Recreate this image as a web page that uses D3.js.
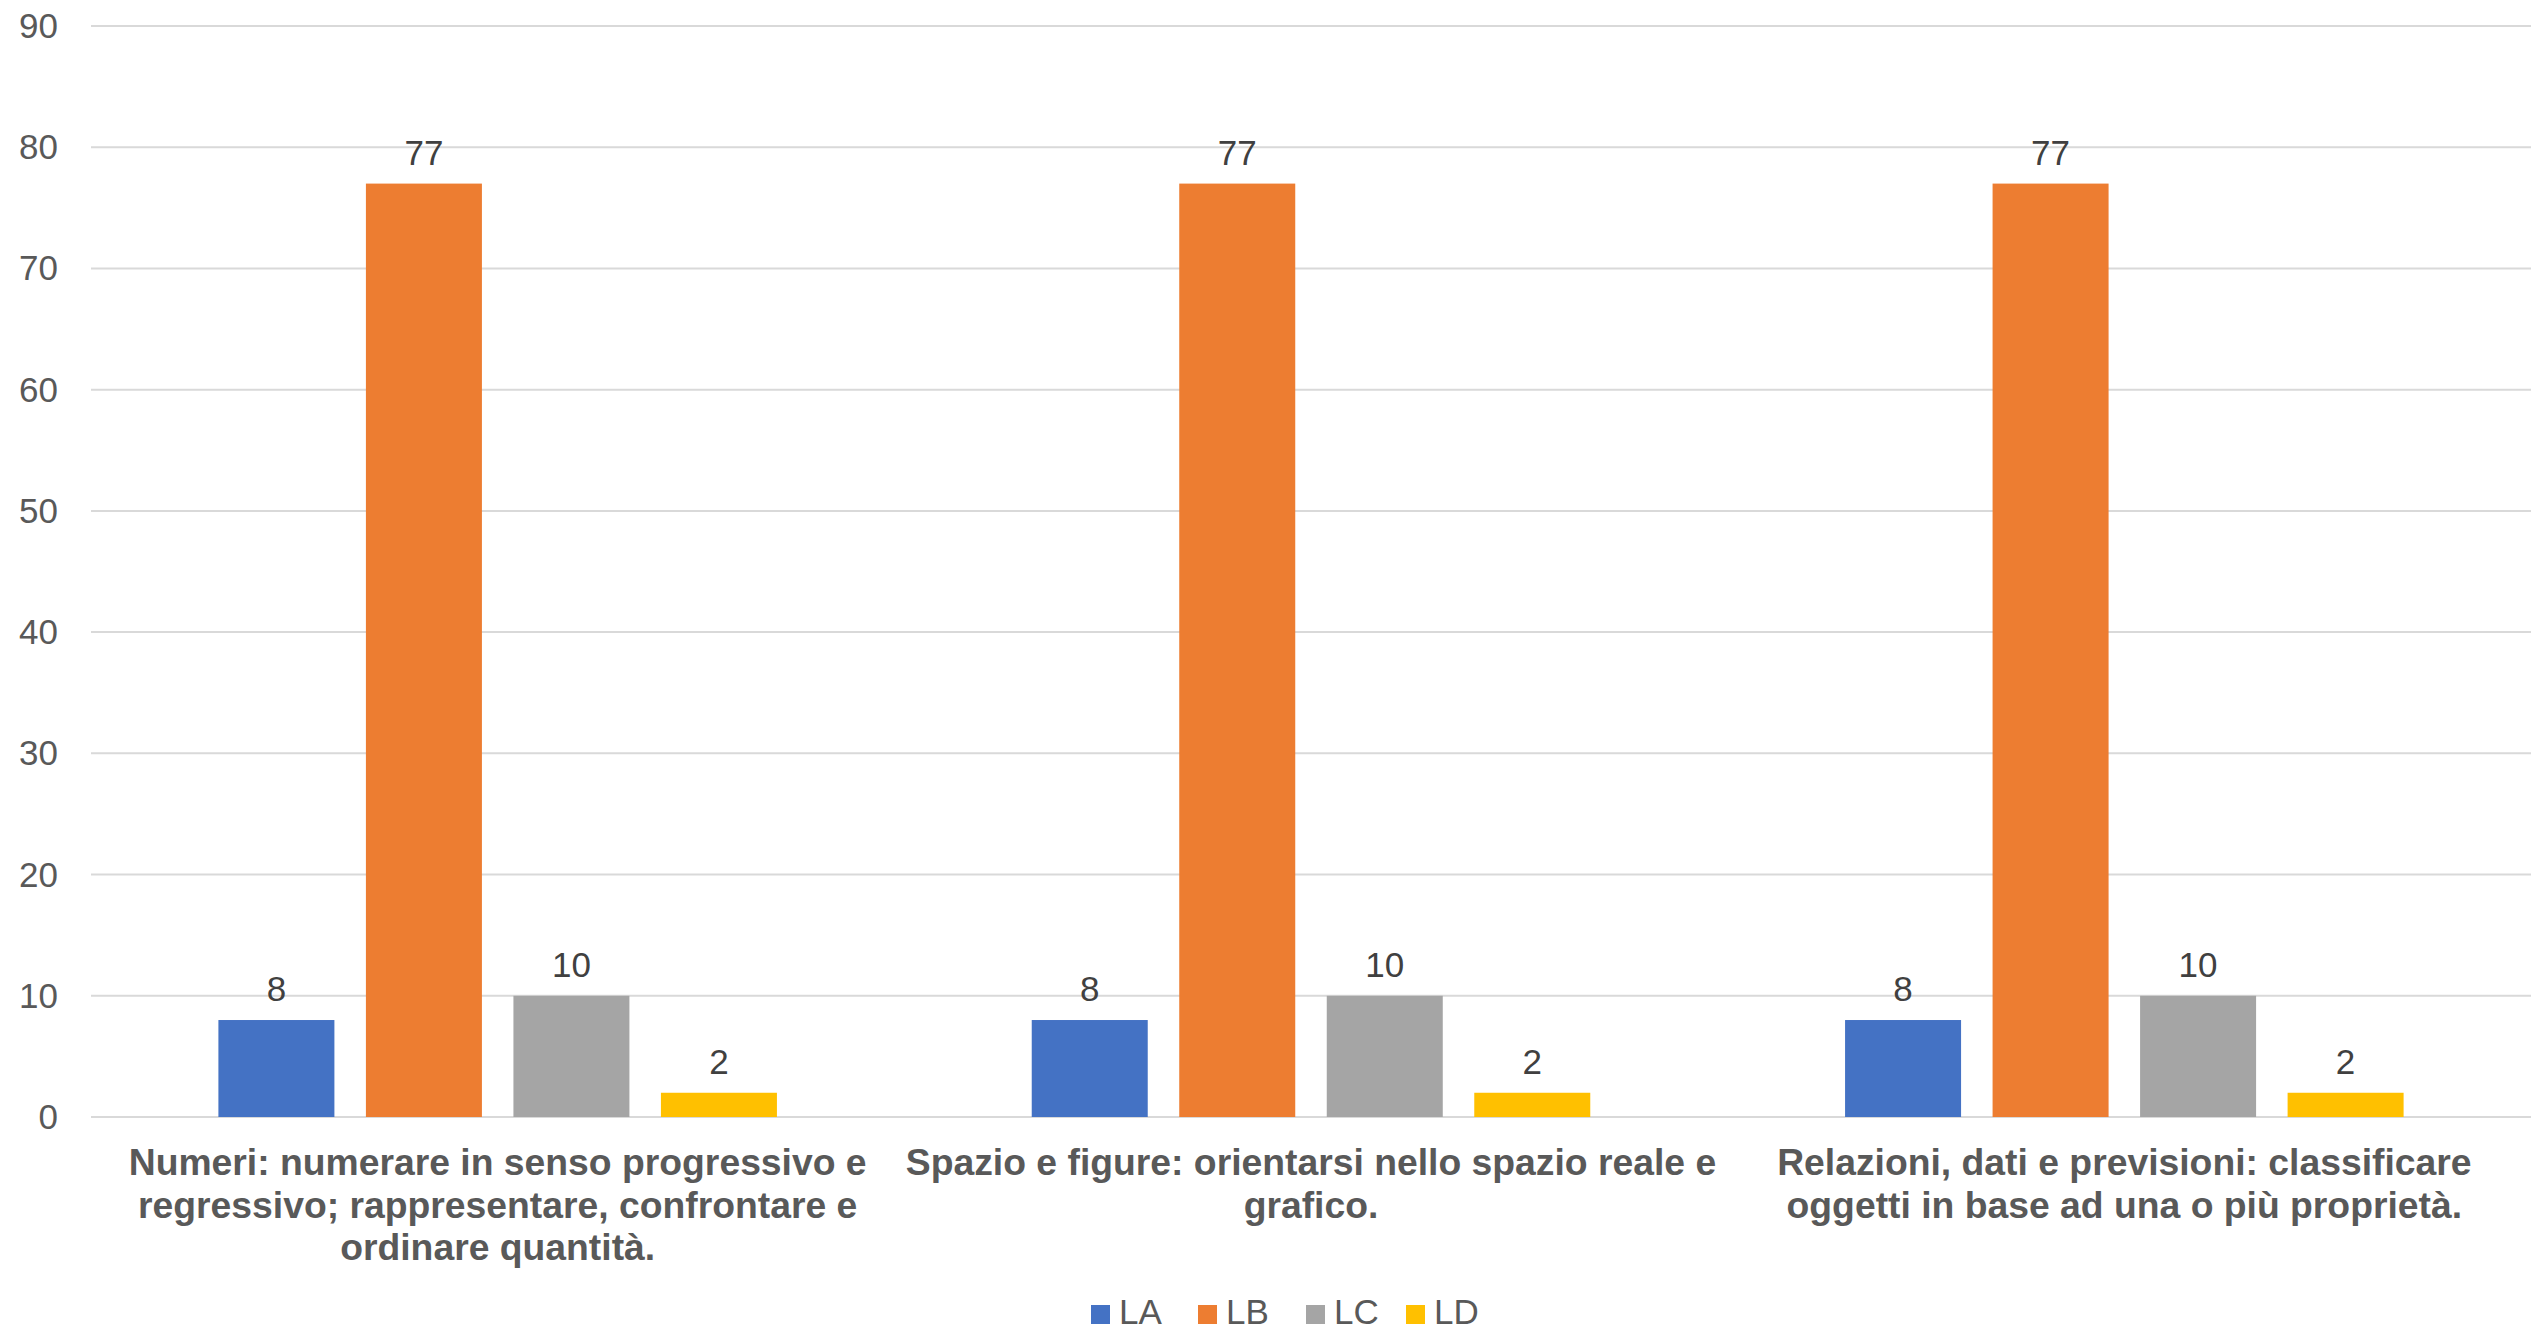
<!DOCTYPE html>
<html lang="it">
<head>
  <meta charset="UTF-8">
  <title>Bar chart LA LB LC LD</title>
  <style>
    body { margin: 0; background: #fff; }
    svg { display: block; font-family: "Liberation Sans", Arial, sans-serif; }
  </style>
</head>
<body>
  <svg id="chart" width="2539" height="1331"></svg>

  <script src="https://d3js.org/d3.v7.min.js"></script>
  <script>
    // data
    const categories = [
      "Numeri: numerare in senso progressivo e\nregressivo; rappresentare, confrontare e\nordinare quantità.",
      "Spazio e figure: orientarsi nello spazio reale e\ngrafico.",
      "Relazioni, dati e previsioni: classificare\noggetti in base ad una o più proprietà."
    ];
    const seriesNames = ["LA", "LB", "LC", "LD"];
    const LA = [8, 8, 8];
    const LB = [77, 77, 77];
    const LC = [10, 10, 10];
    const LD = [2, 2, 2];
    const seriesValues = [LA, LB, LC, LD];
    const yTicks = [0, 10, 20, 30, 40, 50, 60, 70, 80, 90];
    const colors = ["#4472C4", "#ED7D31", "#A5A5A5", "#FFC000"];

    const svg = d3.select("#chart");
    const plotLeft = 91, plotRight = 2531, plotTop = 26, plotBottom = 1117;

    const x0 = d3.scaleBand()
      .domain(categories)
      .range([plotLeft, plotRight])
      .padding(0);

    const groupPad = 127.4;
    const x1 = d3.scaleBand()
      .domain(seriesNames)
      .range([groupPad, x0.bandwidth() - groupPad])
      .paddingInner(0.2136)
      .paddingOuter(0);

    const y = d3.scaleLinear()
      .domain([0, 90])
      .range([plotBottom, plotTop]);

    // gridlines
    svg.append("g")
      .selectAll("line")
      .data(yTicks)
      .enter()
      .append("line")
      .attr("x1", plotLeft)
      .attr("x2", plotRight)
      .attr("y1", d => y(d))
      .attr("y2", d => y(d))
      .attr("stroke", "#d9d9d9")
      .attr("stroke-width", 2);

    // y axis labels
    svg.append("g")
      .selectAll("text")
      .data(yTicks)
      .enter()
      .append("text")
      .attr("x", 58)
      .attr("y", d => y(d) + 12)
      .attr("text-anchor", "end")
      .attr("font-size", 35)
      .attr("fill", "#595959")
      .text(d => d);

    // bars
    const rows = categories.map((c, i) => ({
      cat: c,
      vals: seriesNames.map((s, j) => ({ s: s, v: seriesValues[j][i], c: colors[j] }))
    }));

    const groups = svg.append("g")
      .selectAll("g")
      .data(rows)
      .enter()
      .append("g")
      .attr("transform", d => `translate(${x0(d.cat)},0)`);

    groups.selectAll("rect")
      .data(d => d.vals)
      .enter()
      .append("rect")
      .attr("x", d => x1(d.s))
      .attr("y", d => y(d.v))
      .attr("width", x1.bandwidth())
      .attr("height", d => y(0) - y(d.v))
      .attr("fill", d => d.c);

    groups.selectAll("text")
      .data(d => d.vals)
      .enter()
      .append("text")
      .attr("x", d => x1(d.s) + x1.bandwidth() / 2)
      .attr("y", d => y(d.v) - 19)
      .attr("text-anchor", "middle")
      .attr("font-size", 35)
      .attr("fill", "#404040")
      .text(d => d.v);

    // category labels
    const catLabels = svg.append("g")
      .selectAll("text")
      .data(categories)
      .enter()
      .append("text")
      .attr("text-anchor", "middle")
      .attr("font-size", 37.3)
      .attr("font-weight", "bold")
      .attr("fill", "#595959");

    catLabels.selectAll("tspan")
      .data(d => d.split("\n").map(line => ({ line: line, cat: d })))
      .enter()
      .append("tspan")
      .attr("x", d => x0(d.cat) + x0.bandwidth() / 2)
      .attr("y", (d, i) => 1175 + i * 42.5)
      .text(d => d.line);

    // legend
    const legendX = [1091, 1198, 1306, 1406];
    const legend = svg.append("g")
      .selectAll("g")
      .data(seriesNames)
      .enter()
      .append("g")
      .attr("transform", (d, i) => `translate(${legendX[i]},1305)`);

    legend.append("rect")
      .attr("width", 19)
      .attr("height", 19)
      .attr("fill", (d, i) => colors[i]);

    legend.append("text")
      .attr("x", 28)
      .attr("y", 19)
      .attr("font-size", 35)
      .attr("fill", "#595959")
      .text(d => d);
  </script>
</body>
</html>
